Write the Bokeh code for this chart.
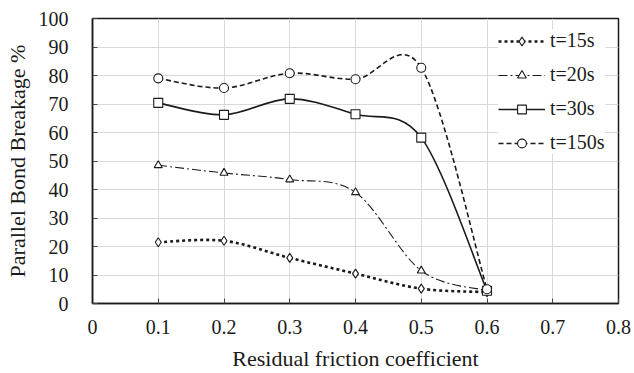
import numpy as np
from bokeh.plotting import figure
from bokeh.models import Range1d, FixedTicker, Legend, LegendItem, ColumnDataSource
from bokeh.embed import file_html
from bokeh.resources import INLINE

# Residual friction coefficient and parallel bond breakage (%) per loading time
friction = [0.1, 0.2, 0.3, 0.4, 0.5, 0.6]
t15 = [21.5, 22.0, 16.0, 10.5, 5.2, 4.0]
t20 = [48.5, 45.8, 43.5, 39.0, 11.5, 4.5]
t30 = [70.4, 66.2, 71.8, 66.4, 58.2, 4.5]
t150 = [79.0, 75.6, 80.8, 78.7, 82.7, 5.0]
series_names = ["t=15s", "t=20s", "t=30s", "t=150s"]

x_ticks = [0, 0.1, 0.2, 0.3, 0.4, 0.5, 0.6, 0.7, 0.8]
x_tick_labels = ["0", "0.1", "0.2", "0.3", "0.4", "0.5", "0.6", "0.7", "0.8"]
y_ticks = [0, 10, 20, 30, 40, 50, 60, 70, 80, 90, 100]

FONT = "Liberation Serif"
INK = "#1a1a1a"

p = figure(width=634, height=373, output_backend="svg", toolbar_location=None,
           x_range=Range1d(0, 0.8), y_range=Range1d(0, 100),
           min_border_left=92, min_border_right=16, min_border_top=18, min_border_bottom=69)
p.background_fill_color = "white"
p.border_fill_color = "white"
p.outline_line_color = INK
p.outline_line_width = 1.5

p.xaxis.ticker = FixedTicker(ticks=x_ticks)
p.yaxis.ticker = FixedTicker(ticks=y_ticks)
p.xaxis.major_label_overrides = {t: s for t, s in zip(x_ticks, x_tick_labels)}
for ax in (p.xaxis, p.yaxis):
    ax.axis_line_color = INK
    ax.axis_line_width = 1.5
    ax.major_tick_in = 5
    ax.major_tick_out = 0
    ax.major_tick_line_color = "#444444"
    ax.minor_tick_line_color = None
    ax.major_label_text_font = FONT
    ax.major_label_text_font_size = "20px"
    ax.major_label_text_color = INK
    ax.axis_label_text_font = FONT
    ax.axis_label_text_font_size = "22px"
    ax.axis_label_text_font_style = "normal"
    ax.axis_label_text_color = INK
p.xaxis.axis_label = "Residual friction coefficient"
p.yaxis.axis_label = "Parallel Bond Breakage %"
p.xaxis.major_label_standoff = 16
p.yaxis.major_label_standoff = 24
p.xaxis.axis_label_standoff = 9
p.yaxis.axis_label_standoff = 6

p.grid.grid_line_color = "#d9d9d9"
p.grid.grid_line_width = 1


def smooth_segments(xs, ys):
    """Bezier control points for a smoothed line through the points."""
    x = np.asarray(xs, float)
    y = np.asarray(ys, float)
    n = len(x)
    xp = np.concatenate([[x[0]], x, [x[-1]]])
    yp = np.concatenate([[y[0]], y, [y[-1]]])
    seg = dict(x0=[], y0=[], x1=[], y1=[], cx0=[], cy0=[], cx1=[], cy1=[])
    for i in range(n - 1):
        j = i + 1
        seg["x0"].append(x[i]); seg["y0"].append(y[i])
        seg["x1"].append(x[i + 1]); seg["y1"].append(y[i + 1])
        seg["cx0"].append(x[i] + (xp[j + 1] - xp[j - 1]) / 6)
        seg["cy0"].append(y[i] + (yp[j + 1] - yp[j - 1]) / 6)
        seg["cx1"].append(x[i + 1] - (xp[j + 2] - xp[j]) / 6)
        seg["cy1"].append(y[i + 1] - (yp[j + 2] - yp[j]) / 6)
    return ColumnDataSource(seg)


styles = [
    dict(values=t15, dash="3 3", width=2.6, marker="diamond", size=9),
    dict(values=t20, dash="9 3 2 3", width=1.1, marker="triangle", size=8),
    dict(values=t30, dash="solid", width=1.6, marker="square", size=9),
    dict(values=t150, dash="5 3", width=1.6, marker="circle", size=9),
]

items = []
for name, st in zip(series_names, styles):
    p.bezier(x0="x0", y0="y0", x1="x1", y1="y1", cx0="cx0", cy0="cy0", cx1="cx1", cy1="cy1",
             source=smooth_segments(friction, st["values"]),
             line_color=INK, line_width=st["width"], line_dash=st["dash"])
    # single-point line: draws nothing in the plot, only supplies the legend key stroke
    key_line = p.line(x=friction[:1], y=st["values"][:1], line_color=INK,
                      line_width=st["width"], line_dash=st["dash"])
    pts = p.scatter(x=friction, y=st["values"], marker=st["marker"], size=st["size"],
                    fill_color="white", line_color=INK, line_width=1.1)
    items.append(LegendItem(label=name, renderers=[key_line, pts]))

legend = Legend(items=items, location=(406, 149))
legend.label_text_font = FONT
legend.label_text_font_size = "20px"
legend.label_text_color = INK
legend.glyph_width = 47
legend.glyph_height = 22
legend.label_height = 22
legend.label_standoff = 5
legend.spacing = 11
legend.padding = 8
legend.margin = 0
legend.border_line_color = None
legend.background_fill_color = "white"
legend.background_fill_alpha = 1.0
p.add_layout(legend)

open("out.html", "w").write(file_html(p, INLINE))
